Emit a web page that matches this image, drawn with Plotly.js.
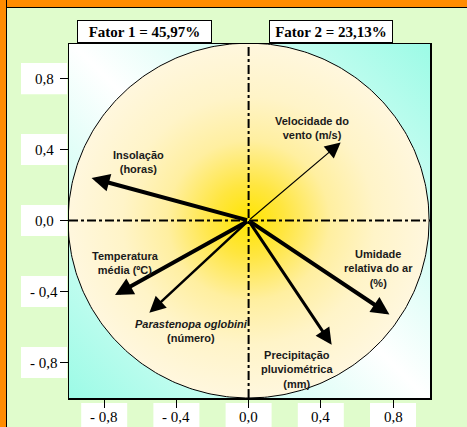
<!DOCTYPE html>
<html>
<head>
<meta charset="utf-8">
<script src="https://cdn.plot.ly/plotly-3.0.1.min.js"></script>
<style>
  html, body { margin: 0; padding: 0; }
  #wrap { position: relative; width: 467px; height: 427px; overflow: hidden; background: #e0fccc; }
  #otop { position: absolute; left: 0; top: 0; width: 467px; height: 7px; background: #ff8c00; border-bottom: 1px solid #000; }
  #oleft { position: absolute; left: 0; top: 0; width: 6px; height: 427px; background: #ff8c00; border-right: 1px solid #000; }
  #pbg { position: absolute; left: 69px; top: 44px; width: 361px; height: 354px;
         background: linear-gradient(45deg, #9cfbe6 0%, #ffffff 50%, #9cfbe6 100%); }
  #chart { position: absolute; left: 0; top: 0; width: 467px; height: 427px; }
</style>
</head>
<body>
<div id="wrap">
  <div id="otop"></div>
  <div id="oleft"></div>
  <div id="pbg"></div>
  <div id="chart"></div>
</div>
<script>
// ---- data ----
const variables = [
  "Insolação<br>(horas)",
  "Velocidade do<br>vento (m/s)",
  "Temperatura<br>média (ºC)",
  "<i>Parastenopa oglobini</i><br>(número)",
  "Precipitação<br>pluviométrica<br>(mm)",
  "Umidade<br>relativa do ar<br>(%)"
];
const factor1 = [-0.87, 0.51, -0.74, -0.55, 0.46, 0.78];
const factor2 = [0.24, 0.44, -0.42, -0.52, -0.70, -0.53];
const factorTitles = ["Fator 1 = 45,97%", "Fator 2 = 23,13%"];
const tickVals = [-0.8, -0.4, 0.0, 0.4, 0.8];
const tickText = ["- 0,8", "- 0,4", "0,0", "0,4", "0,8"];

// ---- styles / label placement ----
const arrowWidths = [4, 1.2, 4, 2.5, 3, 4];
const arrowSizes = [0.9, 2.6, 0.9, 1.3, 1.1, 0.9];
const labelPos = [[-0.61, 0.33], [0.35, 0.52], [-0.68, -0.24], [-0.315, -0.62], [0.27, -0.84], [0.72, -0.27]];

const W = 467, H = 427, L = 69, R = 37, T = 44, B = 29;
const pw = W - L - R, ph = H - T - B;
const px2x = px => (px - L) / pw;
const py2y = py => (H - B - py) / ph;

// unit correlation circle geometry
const cx = [], cy = [];
for (let i = 0; i <= 360; i++) {
  const a = i * Math.PI / 180;
  cx.push(Math.cos(a)); cy.push(Math.sin(a));
}

const traces = [{
  x: cx, y: cy, type: 'scatter', mode: 'lines', fill: 'toself',
  line: {color: '#000', width: 1},
  fillgradient: {type: 'radial', colorscale: [[0, '#ffe500'], [0.2, '#ffe640'], [0.45, '#ffefa0'], [0.7, '#fff4c8'], [1, '#fff7de']]},
  hoverinfo: 'skip', showlegend: false
}];

const annotations = [];
const shapes = [
  {type: 'line', xref: 'paper', yref: 'y', x0: 0, x1: 1, y0: 0, y1: 0, layer: 'above',
   line: {color: '#000', width: 2, dash: 'dashdot'}},
  {type: 'line', xref: 'x', yref: 'paper', x0: 0, x1: 0, y0: 0, y1: 1, layer: 'above',
   line: {color: '#000', width: 2, dash: 'dashdot'}}
];
// arrows
for (let i = 0; i < variables.length; i++) {
  annotations.push({
    x: factor1[i], y: factor2[i], xref: 'x', yref: 'y',
    ax: 0, ay: 0, axref: 'x', ayref: 'y',
    text: '', showarrow: true, arrowhead: 2,
    arrowwidth: arrowWidths[i], arrowsize: arrowSizes[i], arrowcolor: '#000', standoff: 0, startstandoff: 0
  });
}
// labels
for (let i = 0; i < variables.length; i++) {
  annotations.push({
    x: labelPos[i][0], y: labelPos[i][1], xref: 'x', yref: 'y',
    text: variables[i], showarrow: false, align: 'center',
    font: {family: 'Liberation Sans, Arial, sans-serif', size: 11, color: '#1a1a1a', weight: 'bold'}
  });
}
// factor title boxes
const titleCenters = [144.5, 331];
const titleWidths = [131, 120];
for (let i = 0; i < 2; i++) {
  annotations.push({
    x: px2x(titleCenters[i]), y: py2y(31.5), xref: 'paper', yref: 'paper',
    xanchor: 'center', yanchor: 'middle',
    text: '<b>' + factorTitles[i] + '</b>', showarrow: false,
    width: titleWidths[i], height: 19, bgcolor: '#ffffff', bordercolor: '#000', borderwidth: 1, borderpad: 1,
    font: {family: 'Liberation Serif, Times New Roman, serif', size: 15, color: '#000'}
  });
}
// tick labels: white boxes drawn below the tick marks, text on top
const tickFont = {family: 'Liberation Serif, Times New Roman, serif', size: 15, color: '#000'};
for (let i = 0; i < tickVals.length; i++) {
  shapes.push({
    type: 'rect', xref: 'paper', yref: 'y', layer: 'below',
    x0: px2x(21), x1: px2x(67), y0: tickVals[i] - 15.5 / 177, y1: tickVals[i] + 15.5 / 177,
    fillcolor: '#ffffff', line: {width: 0}
  });
  annotations.push({
    x: px2x(44), y: tickVals[i], xref: 'paper', yref: 'y', xanchor: 'center', yanchor: 'middle',
    text: tickText[i], showarrow: false, font: tickFont
  });
  shapes.push({
    type: 'rect', xref: 'x', yref: 'paper', layer: 'below',
    x0: tickVals[i] - 23 / 180.5, x1: tickVals[i] + 23 / 180.5, y0: py2y(403), y1: py2y(440),
    fillcolor: '#ffffff', line: {width: 0}
  });
  annotations.push({
    x: tickVals[i], y: py2y(417), xref: 'x', yref: 'paper', xanchor: 'center', yanchor: 'middle',
    text: tickText[i], showarrow: false, font: tickFont
  });
}

const axisCommon = {
  range: [-1, 1], showgrid: false, zeroline: false, showline: true, mirror: true,
  linecolor: '#000', linewidth: 1.5, ticks: 'outside', ticklen: 8, tickwidth: 1, tickcolor: '#000',
  tickvals: tickVals, showticklabels: false, fixedrange: true
};

const layout = {
  width: W, height: H,
  margin: {l: L, r: R, t: T, b: B, pad: 0},
  paper_bgcolor: 'rgba(0,0,0,0)', plot_bgcolor: 'rgba(0,0,0,0)',
  xaxis: Object.assign({}, axisCommon, {range: [-0.995, 1.005]}),
  yaxis: Object.assign({}, axisCommon, {range: [-1.0, 0.995]}),
  showlegend: false,
  shapes: shapes,
  annotations: annotations
};

Plotly.newPlot('chart', traces, layout, {displayModeBar: false, staticPlot: true});
</script>
</body>
</html>
